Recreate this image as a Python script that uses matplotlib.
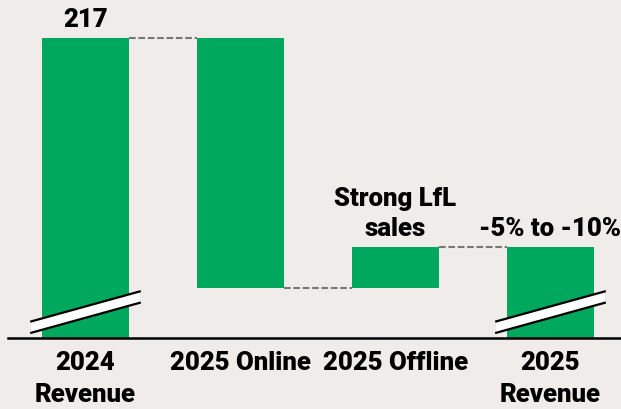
import numpy as np
import matplotlib
matplotlib.use("Agg")
import matplotlib.pyplot as plt
from matplotlib.patches import Polygon

plt.rcParams["font.family"] = ["Roboto", "DejaVu Sans"]

BG = "#f0ece9"
GREEN = "#00a85e"

categories = ["2024\nRevenue", "2025 Online", "2025 Offline", "2025\nRevenue"]
start_value = 217          # 2024 revenue
changes = [-55, 9]         # online drop, offline gain (illustrative scale)
top_labels = ["217", "", "Strong LfL\nsales", "-5% to -10%"]
broken = [True, False, False, True]

YMIN = 151

# running levels
lv = [start_value]
for c in changes:
    lv.append(lv[-1] + c)
end_value = lv[-1]
bottoms = [YMIN, min(lv[0], lv[1]), min(lv[1], lv[2]), YMIN]
tops = [lv[0], max(lv[0], lv[1]), max(lv[1], lv[2]), end_value]

fig = plt.figure(figsize=(6.21, 4.10), dpi=100, facecolor=BG)
ax = fig.add_axes([8 / 621, 71 / 410, 613 / 621, 339 / 410])
ax.set_facecolor(BG)

x = np.arange(len(categories))
w = 0.56
heights = [t - b for t, b in zip(tops, bottoms)]
ax.bar(x, heights, bottom=bottoms, width=w, color=GREEN, zorder=2)

# connectors
conn = [lv[0], lv[1], lv[2]]
for i, yv in enumerate(conn):
    ax.plot([x[i] + w / 2, x[i + 1] - w / 2], [yv, yv], color="#777777",
            lw=1.5, dashes=(3.2, 1.3), zorder=1)

# axis break marks on truncated bars
for i, b in enumerate(broken):
    if not b:
        continue
    xs = np.array([x[i] - 0.35, x[i] + 0.35])
    yc = YMIN + 5.7
    slope = 6.6 / 0.7
    lo = yc + (xs - x[i]) * slope - 1.25
    hi = lo + 2.5
    poly = Polygon([[xs[0], lo[0]], [xs[1], lo[1]], [xs[1], hi[1]], [xs[0], hi[0]]],
                   closed=True, facecolor="white", edgecolor="none", zorder=3)
    ax.add_patch(poly)
    ax.plot(xs, lo, color="black", lw=1.6, zorder=4)
    ax.plot(xs, hi, color="black", lw=1.6, zorder=4)

# labels above bars
for i, lab in enumerate(top_labels):
    if lab:
        ax.annotate(lab, (x[i], tops[i]), xytext=(0, 8.6), textcoords="offset points",
                    ha="center", va="baseline", fontsize=18.5, fontweight="heavy",
                    linespacing=1.3)

ax.set_xlim(-0.5, 3.455)
ax.set_ylim(YMIN, 225.6)
ax.set_xticks(x)
ax.set_xticklabels(categories, fontsize=18.5, fontweight="heavy", linespacing=1.42)
ax.tick_params(axis="x", length=0, pad=9)
ax.set_yticks([])
for s in ["top", "right", "left"]:
    ax.spines[s].set_visible(False)
ax.spines["bottom"].set_linewidth(1.8)
ax.spines["bottom"].set_zorder(5)

fig.savefig("out.png", dpi=100, facecolor=BG)
